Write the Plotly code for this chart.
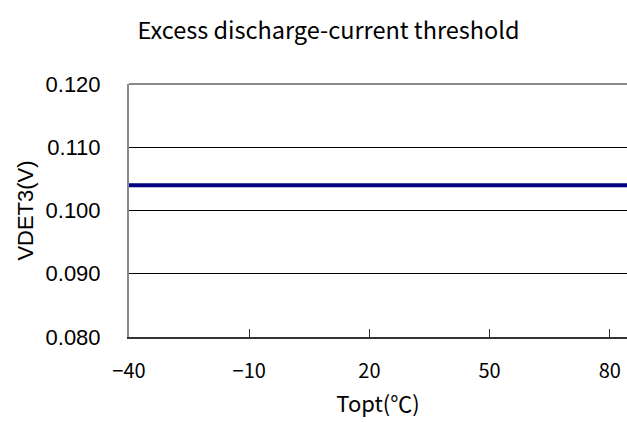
import plotly.graph_objects as go

temps = [-40, -20, 25, 50, 75, 85]
vdet3 = [0.104, 0.104, 0.104, 0.104, 0.104, 0.104]
x_ticks = [-40, -10, 20, 50, 80]
y_ticks = [0.080, 0.090, 0.100, 0.110, 0.120]
y_tick_labels = ["0.080", "0.090", "0.100", "0.110", "0.120"]

GOTHIC = "Noto Sans CJK JP"
SANS = "Liberation Sans"

fig = go.Figure()
fig.add_trace(go.Scatter(x=temps, y=vdet3, mode="lines",
                         line=dict(color="#000080", width=4), showlegend=False))

fig.update_layout(
    width=627, height=422,
    margin=dict(l=129, r=0, t=84, b=85),
    paper_bgcolor="white", plot_bgcolor="white",
    font=dict(family=GOTHIC, color="black", size=19),
    title=dict(text="Excess discharge-current threshold", x=0.524, xanchor="center",
               y=0.927, yanchor="middle", font=dict(family=GOTHIC, size=23.5)),
)
fig.update_xaxes(range=[-40, 84.3], tickvals=x_ticks, showgrid=False,
                 showline=True, linecolor="#333333", linewidth=2,
                 ticks="inside", ticklen=8, tickcolor="#333333", tickwidth=1,
                 tickfont=dict(family=GOTHIC, size=20), ticklabelstandoff=15,
                 title=dict(text="Topt(℃)", font=dict(family=GOTHIC, size=22), standoff=14),
                 zeroline=False)
fig.update_yaxes(range=[0.080, 0.120], tickvals=y_ticks, ticktext=y_tick_labels,
                 showgrid=True, gridcolor="black", gridwidth=1,
                 showline=True, linecolor="#888888", linewidth=2,
                 ticks="", ticklabelstandoff=22,
                 tickfont=dict(family=SANS, size=22),
                 title=dict(text="VDET3(V)", font=dict(family=SANS, size=22), standoff=6),
                 zeroline=False)
fig.add_shape(type="line", xref="paper", yref="paper", x0=0, x1=1, y0=1, y1=1,
              line=dict(color="#888888", width=2))

fig.write_html("out.html")
